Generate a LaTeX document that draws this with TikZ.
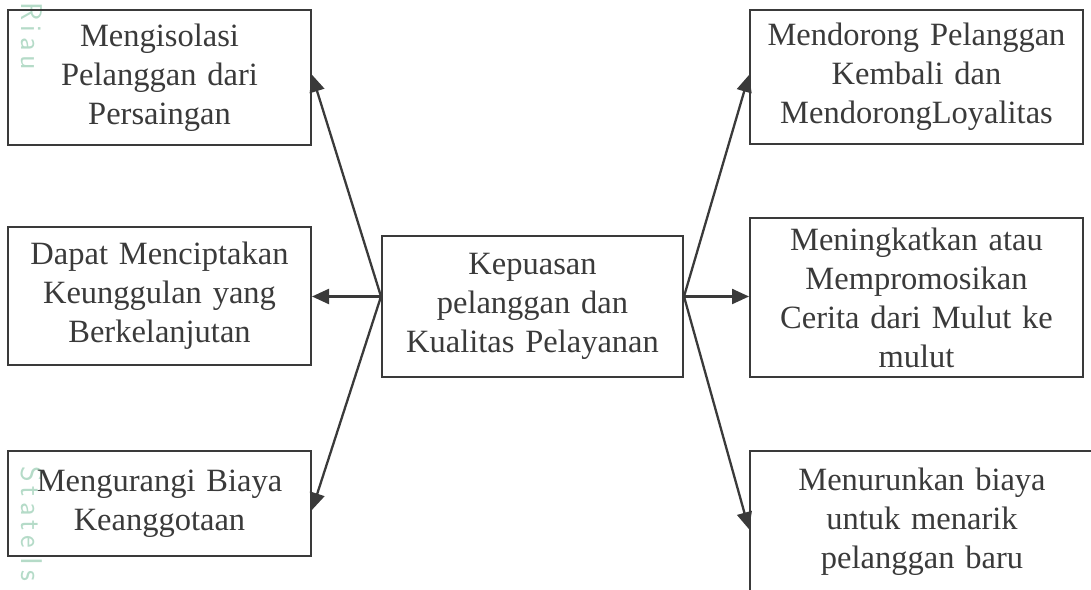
\documentclass[tikz,border=0pt]{standalone}
\usepackage{fontspec}
\setmainfont{Liberation Serif}
\usetikzlibrary{arrows.meta,calc}
\definecolor{ink}{HTML}{3A3A3A}
\definecolor{wm}{HTML}{B5DBC8}
\begin{document}
\begin{tikzpicture}[x=1pt,y=-1pt,
  box/.style={draw=ink,line width=2pt,rectangle,inner sep=0pt,align=center,
    text=ink,font=\fontsize{32.5}{39}\selectfont},
  conn/.style={draw=ink,line width=2.3pt,-{Triangle[length=17pt,width=15pt]}},
  wmtext/.style={text=wm,font=\fontsize{30}{30}\sffamily,rotate=-90,anchor=south west,inner sep=0pt}]
\useasboundingbox (0,0) rectangle (1091,589);
\clip (0,0) rectangle (1091,589);
% watermark text
\node[wmtext] (wm1) at (21,2) {R\,i\,a\,u};
\node[wmtext] (wm2) at (21,466) {S\,t\,a\,t\,e\ I\,s};
% boxes
\node[box,minimum width=303pt,minimum height=135pt,text width=303pt] (tl) at (159.5,77.5)
  {Mengisolasi\\Pelanggan dari\\Persaingan};
\node[box,minimum width=303pt,minimum height=138pt,text width=303pt] (ml) at (159.5,296)
  {Dapat Menciptakan\\Keunggulan yang\\Berkelanjutan};
\node[box,minimum width=303pt,minimum height=105pt,text width=303pt] (bl) at (159.5,503.5)
  {Mengurangi Biaya\\Keanggotaan};
\node[box,minimum width=301pt,minimum height=141pt,text width=301pt] (c) at (532.5,306.5)
  {Kepuasan\\pelanggan dan\\Kualitas Pelayanan};
\node[box,minimum width=333pt,minimum height=134pt,text width=333pt] (tr) at (916.5,77)
  {Mendorong Pelanggan\\Kembali dan\\MendorongLoyalitas};
\node[box,minimum width=333pt,minimum height=159pt,text width=333pt] (mr) at (916.5,297.5)
  {Meningkatkan atau\\Mempromosikan\\Cerita dari Mulut ke\\mulut};
\node[box,minimum width=344pt,minimum height=142pt,text width=344pt] (br) at (922,522)
  {Menurunkan biaya\\untuk menarik\\pelanggan baru};
% connector origins on the centre box
\coordinate (cl) at ($(c.north west)!0.43!(c.south west)$);
\coordinate (cr) at ($(c.north east)!0.43!(c.south east)$);
% connectors
\draw[conn] (cl) -- ($(tl.north east)!0.48!(tl.south east)$);
\draw[conn] (cl) -- (ml.east |- cl);
\draw[conn] (cl) -- ($(bl.north east)!0.56!(bl.south east)$);
\draw[conn] (cr) -- ($(tr.north west)!0.485!(tr.south west)$);
\draw[conn] (cr) -- (mr.west |- cr);
\draw[conn] (cr) -- ($(br.north west)!0.55!(br.south west)$);
\end{tikzpicture}
\end{document}
